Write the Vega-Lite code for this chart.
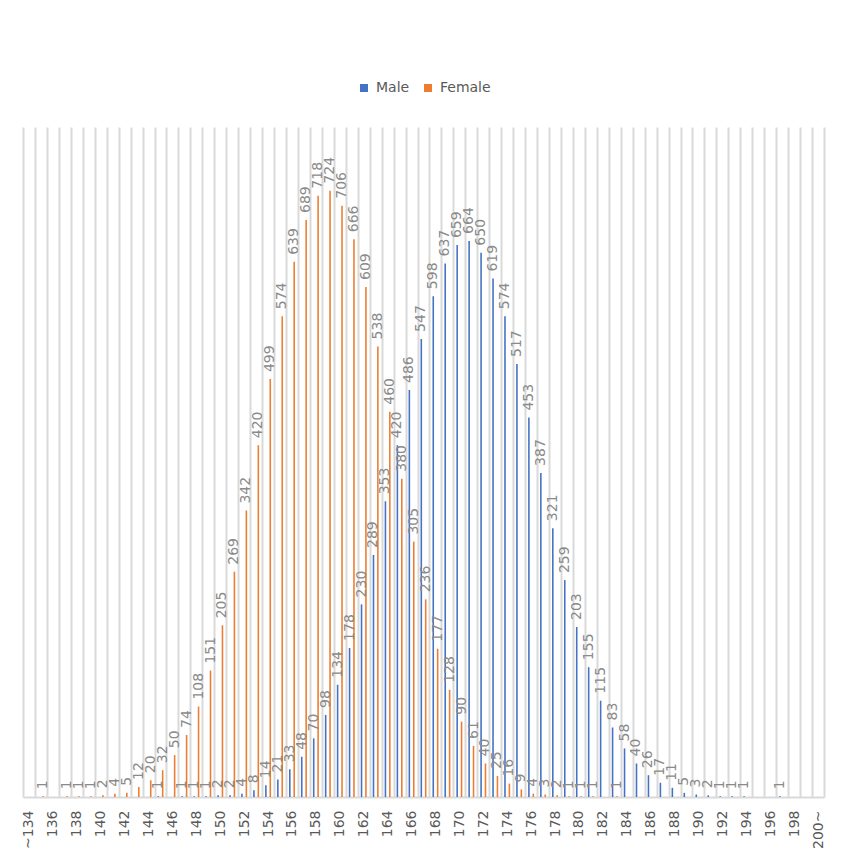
{
  "$schema": "https://vega.github.io/schema/vega-lite/v6.json",
  "width": 801,
  "height": 670,
  "autosize": {"type": "none"},
  "padding": {"left": 23, "top": 127, "right": 24, "bottom": 69},
  "background": "white",
  "config": {"view": {"stroke": null}, "font": "DejaVu Sans"},
  "data": {"values": [
    {"h": "135", "s": "Female", "n": 1},
    {"h": "137", "s": "Female", "n": 1},
    {"h": "138", "s": "Female", "n": 1},
    {"h": "139", "s": "Female", "n": 1},
    {"h": "140", "s": "Female", "n": 2},
    {"h": "141", "s": "Female", "n": 4},
    {"h": "142", "s": "Female", "n": 5},
    {"h": "143", "s": "Female", "n": 12},
    {"h": "144", "s": "Female", "n": 20},
    {"h": "145", "s": "Female", "n": 32},
    {"h": "146", "s": "Female", "n": 50},
    {"h": "147", "s": "Female", "n": 74},
    {"h": "148", "s": "Female", "n": 108},
    {"h": "149", "s": "Female", "n": 151},
    {"h": "150", "s": "Female", "n": 205},
    {"h": "151", "s": "Female", "n": 269},
    {"h": "152", "s": "Female", "n": 342},
    {"h": "153", "s": "Female", "n": 420},
    {"h": "154", "s": "Female", "n": 499},
    {"h": "155", "s": "Female", "n": 574},
    {"h": "156", "s": "Female", "n": 639},
    {"h": "157", "s": "Female", "n": 689},
    {"h": "158", "s": "Female", "n": 718},
    {"h": "159", "s": "Female", "n": 724},
    {"h": "160", "s": "Female", "n": 706},
    {"h": "161", "s": "Female", "n": 666},
    {"h": "162", "s": "Female", "n": 609},
    {"h": "163", "s": "Female", "n": 538},
    {"h": "164", "s": "Female", "n": 460},
    {"h": "165", "s": "Female", "n": 380},
    {"h": "166", "s": "Female", "n": 305},
    {"h": "167", "s": "Female", "n": 236},
    {"h": "168", "s": "Female", "n": 177},
    {"h": "169", "s": "Female", "n": 128},
    {"h": "170", "s": "Female", "n": 90},
    {"h": "171", "s": "Female", "n": 61},
    {"h": "172", "s": "Female", "n": 40},
    {"h": "173", "s": "Female", "n": 25},
    {"h": "174", "s": "Female", "n": 16},
    {"h": "175", "s": "Female", "n": 9},
    {"h": "176", "s": "Female", "n": 4},
    {"h": "177", "s": "Female", "n": 3},
    {"h": "178", "s": "Female", "n": 2},
    {"h": "179", "s": "Female", "n": 1},
    {"h": "180", "s": "Female", "n": 1},
    {"h": "181", "s": "Female", "n": 1},
    {"h": "183", "s": "Female", "n": 1},
    {"h": "145", "s": "Male", "n": 1},
    {"h": "147", "s": "Male", "n": 1},
    {"h": "148", "s": "Male", "n": 1},
    {"h": "149", "s": "Male", "n": 1},
    {"h": "150", "s": "Male", "n": 2},
    {"h": "151", "s": "Male", "n": 2},
    {"h": "152", "s": "Male", "n": 4},
    {"h": "153", "s": "Male", "n": 8},
    {"h": "154", "s": "Male", "n": 14},
    {"h": "155", "s": "Male", "n": 21},
    {"h": "156", "s": "Male", "n": 33},
    {"h": "157", "s": "Male", "n": 48},
    {"h": "158", "s": "Male", "n": 70},
    {"h": "159", "s": "Male", "n": 98},
    {"h": "160", "s": "Male", "n": 134},
    {"h": "161", "s": "Male", "n": 178},
    {"h": "162", "s": "Male", "n": 230},
    {"h": "163", "s": "Male", "n": 289},
    {"h": "164", "s": "Male", "n": 353},
    {"h": "165", "s": "Male", "n": 420},
    {"h": "166", "s": "Male", "n": 486},
    {"h": "167", "s": "Male", "n": 547},
    {"h": "168", "s": "Male", "n": 598},
    {"h": "169", "s": "Male", "n": 637},
    {"h": "170", "s": "Male", "n": 659},
    {"h": "171", "s": "Male", "n": 664},
    {"h": "172", "s": "Male", "n": 650},
    {"h": "173", "s": "Male", "n": 619},
    {"h": "174", "s": "Male", "n": 574},
    {"h": "175", "s": "Male", "n": 517},
    {"h": "176", "s": "Male", "n": 453},
    {"h": "177", "s": "Male", "n": 387},
    {"h": "178", "s": "Male", "n": 321},
    {"h": "179", "s": "Male", "n": 259},
    {"h": "180", "s": "Male", "n": 203},
    {"h": "181", "s": "Male", "n": 155},
    {"h": "182", "s": "Male", "n": 115},
    {"h": "183", "s": "Male", "n": 83},
    {"h": "184", "s": "Male", "n": 58},
    {"h": "185", "s": "Male", "n": 40},
    {"h": "186", "s": "Male", "n": 26},
    {"h": "187", "s": "Male", "n": 17},
    {"h": "188", "s": "Male", "n": 11},
    {"h": "189", "s": "Male", "n": 5},
    {"h": "190", "s": "Male", "n": 3},
    {"h": "191", "s": "Male", "n": 2},
    {"h": "192", "s": "Male", "n": 1},
    {"h": "193", "s": "Male", "n": 1},
    {"h": "194", "s": "Male", "n": 1},
    {"h": "197", "s": "Male", "n": 1}
  ]},
  "encoding": {
    "x": {
      "field": "h", "type": "ordinal",
      "scale": {
        "domain": ["~134","135","136","137","138","139","140","141","142","143","144","145","146","147","148","149","150","151","152","153","154","155","156","157","158","159","160","161","162","163","164","165","166","167","168","169","170","171","172","173","174","175","176","177","178","179","180","181","182","183","184","185","186","187","188","189","190","191","192","193","194","195","196","197","198","199","200~"],
        "paddingInner": 0, "paddingOuter": 0
      },
      "axis": {
        "title": null,
        "tickBand": "extent",
        "grid": true, "gridColor": "#d9d9d9", "gridWidth": 2,
        "ticks": false, "tickSize": 0,
        "domainColor": "#d9d9d9", "domainWidth": 2,
        "labelAngle": -90, "labelPadding": 13, "labelFontSize": 14,
        "labelColor": "#595959", "labelOverlap": false,
        "labelExpr": "parseInt(replace(datum.value, '~', '')) % 2 == 0 ? datum.value : ''"
      }
    },
    "xOffset": {
      "field": "s", "type": "nominal",
      "scale": {"domain": ["Male", "Female"], "paddingInner": 0.64, "paddingOuter": 0.68}
    },
    "y": {"field": "n", "type": "quantitative", "scale": {"domain": [0, 800]}, "axis": null}
  },
  "layer": [
    {
      "mark": {"type": "bar"},
      "encoding": {
        "color": {
          "field": "s", "type": "nominal",
          "scale": {"domain": ["Male", "Female"], "range": ["#4472C4", "#ED7D31"]},
          "legend": {
            "orient": "none", "legendX": 334, "legendY": -46,
            "direction": "horizontal", "title": null,
            "symbolType": "square", "symbolSize": 64, "symbolStrokeWidth": 0,
            "labelFontSize": 14, "labelColor": "#595959",
            "columnPadding": 11, "labelOffset": 5, "padding": 0
          }
        }
      }
    },
    {
      "mark": {"type": "text", "angle": -90, "align": "left", "baseline": "middle", "dx": 7, "fontSize": 14, "color": "#8a8a8a"},
      "encoding": {"text": {"field": "n", "type": "quantitative"}}
    }
  ]
}
